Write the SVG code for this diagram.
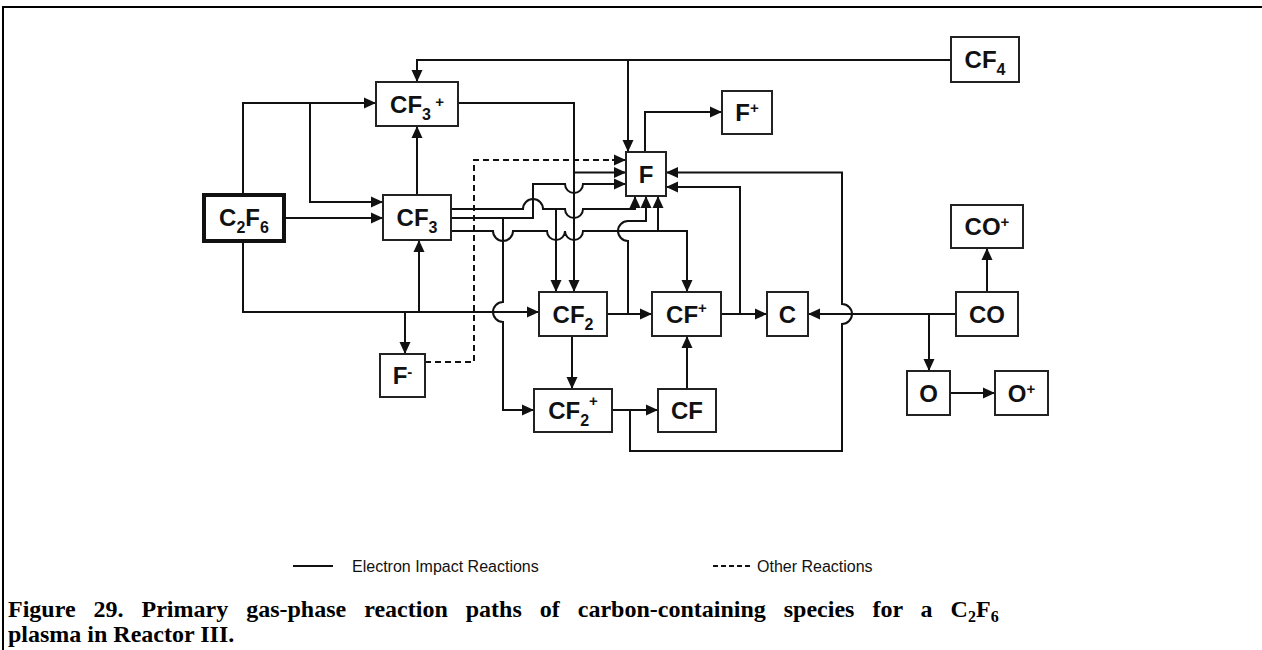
<svg xmlns="http://www.w3.org/2000/svg" width="1262" height="650" viewBox="0 0 1262 650">
<defs>
<marker id="arr" markerUnits="userSpaceOnUse" markerWidth="12" markerHeight="12" refX="12" refY="6" orient="auto">
<path d="M0,0.5 L12,6 L0,11.5 z" fill="#111"/>
</marker>
</defs>
<style>
.box{fill:#fff;stroke:#222;stroke-width:2}
.thick{fill:#fff;stroke:#111;stroke-width:4}
.ln{fill:none;stroke:#111;stroke-width:2}
.ar{fill:none;stroke:#111;stroke-width:2;marker-end:url(#arr)}
.dash{fill:none;stroke:#111;stroke-width:2;stroke-dasharray:6,4}
.lbl{font-family:"Liberation Sans",Arial,sans-serif;font-weight:bold;font-size:24px;text-anchor:middle;fill:#111}
.sb{font-size:16px}
.sp{font-size:15px}
.leg{font-family:"Liberation Sans",Arial,sans-serif;font-size:16px;fill:#111}
.cap{font-family:"Liberation Serif","Times New Roman",serif;font-weight:bold;font-size:24px;fill:#000}
</style>
<rect width="1262" height="650" fill="#fff"/>
<path d="M3,650 V7 H1262" fill="none" stroke="#000" stroke-width="2"/>

<g id="connectors">
<path class="ar" d="M243,194 V103 H376"/>
<path class="ar" d="M310,103 V202 H383"/>
<path class="ar" d="M284,218 H383"/>
<path class="ar" d="M243,241 V312 H539"/>
<path class="ar" d="M419,312 V240"/>
<path class="ar" d="M405,312 V354"/>
<path class="ar" d="M417,195 V126"/>
<path class="ar" d="M951,60 H417 V82"/>
<path class="ar" d="M628,60 V152"/>
<path class="ar" d="M645,152 V112 H722"/>
<path class="ar" d="M458,103 H574 V292"/>
<path class="ar" d="M574,172.5 H626"/>
<path class="dash" d="M425,362 H474 V160 H614"/>
<path class="ar" d="M612,160 H626"/>
<path class="ar" d="M451,209 H523 A10,10 0 0,1 543,209 H565 A9,9 0 0,0 583,209 H635 V196"/>
<path class="ar" d="M556,209 V292"/>
<path class="ar" d="M451,218 H533 V184 H565 A9,9 0 0,0 583,184 H626"/>
<path class="ar" d="M503,218 V302 A10,10 0 0,0 503,322 V410 H534"/>
<path class="ar" d="M451,231 H493 A10,10 0 0,0 513,231 H547 A9,9 0 0,0 565,231 A9,9 0 0,0 583,231 H687 V292"/>
<path class="ar" d="M658,231 V196"/>
<path class="ar" d="M607,314 H652"/>
<path class="ar" d="M628,314 V241 A10,10 0 0,1 628,221 H646 V196"/>
<path class="ar" d="M721,314 H767"/>
<path class="ar" d="M740,314 V187 H666"/>
<path class="ar" d="M956,314 H808"/>
<path class="ar" d="M929,314 V371"/>
<path class="ar" d="M612,410 H658"/>
<path class="ar" d="M630,410 V451 H842 V324 A10,10 0 0,0 842,304 V172.5 H666"/>
<path class="ar" d="M687,389 V336"/>
<path class="ar" d="M572,336 V389"/>
<path class="ar" d="M987,292 V248"/>
<path class="ar" d="M950,393 H995"/>
</g>

<g id="C2F6"><rect class="thick" x="204" y="195" width="80" height="46"/>
<text class="lbl" x="244" y="226">C<tspan class="sb" dy="7">2</tspan><tspan dy="-7">F</tspan><tspan class="sb" dy="7">6</tspan></text></g>
<g id="CF3plus"><rect class="box" x="376" y="82" width="82" height="44"/>
<text class="lbl" x="417" y="112.5">CF<tspan class="sb" dy="7">3</tspan><tspan class="sp" dy="-12.5"> +</tspan></text></g>
<g id="CF3"><rect class="box" x="383" y="195" width="68" height="45"/>
<text class="lbl" x="417" y="226">CF<tspan class="sb" dy="7">3</tspan></text></g>
<g id="CF4"><rect class="box" x="951" y="37" width="68" height="45"/>
<text class="lbl" x="985" y="68">CF<tspan class="sb" dy="7">4</tspan></text></g>
<g id="Fplus"><rect class="box" x="722" y="91" width="50" height="43"/>
<text class="lbl" x="747" y="121">F<tspan class="sp" dy="-8.5">+</tspan></text></g>
<g id="F"><rect class="box" x="626" y="152" width="40" height="44"/>
<text class="lbl" x="646" y="182.5">F</text></g>
<g id="CF2"><rect class="box" x="539" y="292" width="68" height="44"/>
<text class="lbl" x="573" y="322.5">CF<tspan class="sb" dy="7">2</tspan></text></g>
<g id="CFplus"><rect class="box" x="652" y="292" width="69" height="44"/>
<text class="lbl" x="686.5" y="322.5">CF<tspan class="sp" dy="-10">+</tspan></text></g>
<g id="C"><rect class="box" x="767" y="292" width="41" height="44"/>
<text class="lbl" x="787.5" y="322.5">C</text></g>
<g id="CO"><rect class="box" x="956" y="292" width="62" height="44"/>
<text class="lbl" x="987" y="322.5">CO</text></g>
<g id="COplus"><rect class="box" x="951" y="205" width="72" height="43"/>
<text class="lbl" x="987" y="235">CO<tspan class="sp" dy="-8">+</tspan></text></g>
<g id="Fminus"><rect class="box" x="380" y="354" width="45" height="43"/>
<text class="lbl" x="402.5" y="384">F<tspan class="sp" dy="-7">-</tspan></text></g>
<g id="CF2plus"><rect class="box" x="534" y="389" width="78" height="43"/>
<text class="lbl" x="573" y="419">CF<tspan class="sb" dy="7">2</tspan><tspan class="sp" dy="-20">+</tspan></text></g>
<g id="CF"><rect class="box" x="658" y="389" width="58" height="43"/>
<text class="lbl" x="687" y="419">CF</text></g>
<g id="O"><rect class="box" x="907" y="371" width="43" height="44"/>
<text class="lbl" x="928.5" y="401.5">O</text></g>
<g id="Oplus"><rect class="box" x="995" y="371" width="53" height="44"/>
<text class="lbl" x="1021.5" y="401.5">O<tspan class="sp" dy="-8">+</tspan></text></g>

<g id="legend">
<line class="ln" x1="293" y1="566" x2="333" y2="566" stroke-width="1.5"/>
<text class="leg" x="352" y="572">Electron Impact Reactions</text>
<line class="dash" x1="713" y1="566" x2="753" y2="566" stroke-width="1.5" style="stroke-dasharray:5,3"/>
<text class="leg" x="757" y="572">Other Reactions</text>
</g>
<g id="caption">
<text class="cap" x="8" y="617" style="word-spacing:12px">Figure 29. Primary gas-phase reaction paths of carbon-containing species for a C<tspan font-size="16" dy="5">2</tspan><tspan dy="-5">F</tspan><tspan font-size="16" dy="5">6</tspan></text>
<text class="cap" x="8" y="642">plasma in Reactor III.</text>
</g>
</svg>
